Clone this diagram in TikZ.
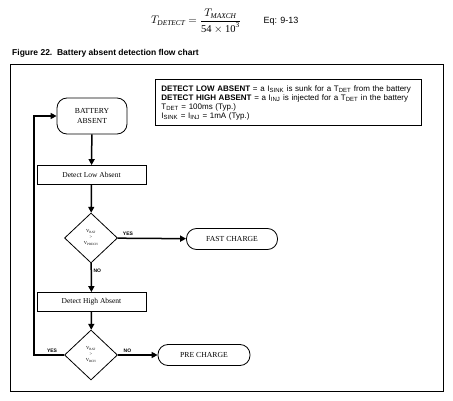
\documentclass[tikz,border=0pt]{standalone}
\usepackage{amsmath}
\usepackage{fontspec}
\setmainfont{Liberation Serif}
\setsansfont{Liberation Sans}
\usetikzlibrary{positioning,arrows.meta,shapes.geometric}

\tikzset{
  terminal/.style={draw, line width=0.8pt, rounded corners=10pt, align=center, inner sep=0pt, font=\fontsize{7.7}{10}\selectfont},
  process/.style={draw, line width=0.8pt, minimum width=109pt, minimum height=19pt, inner sep=0pt, font=\fontsize{7.5}{9}\selectfont},
  decision/.style={draw, line width=0.8pt, diamond, aspect=1.06, inner sep=0pt, minimum width=53pt, minimum height=50pt, align=center, font=\fontsize{4.6}{6}\selectfont},
  flow/.style={line width=1.5pt, -{Triangle[length=6pt,width=6pt]}},
  branch/.style={font=\sffamily\bfseries\fontsize{5}{6}\selectfont, inner sep=1.5pt},
}

\begin{document}
\begin{tikzpicture}[x=1pt, y=-1pt]
  \useasboundingbox (0,0) rectangle (453,401);
  % equation and caption
  \node (eqn) at (196,21) {\fontsize{10.5}{12}\selectfont$T_{\text{\itshape DETECT}}=\dfrac{T_{\text{\itshape MAXCH}}}{\text{54}\times\text{10}^{\text{3}}}$};
  \node[anchor=west, font=\sffamily\fontsize{9}{10}\selectfont] (eqno) at (260,21) {Eq: 9-13};
  \node[anchor=base west, font=\sffamily\bfseries\fontsize{8.5}{10}\selectfont, inner sep=0pt] (caption) at (12,56) {Figure 22.\ \ Battery absent detection flow chart};
  \draw[line width=0.8pt] (10,64) rectangle (443,391);

  % legend
  \node[draw, line width=0.8pt, anchor=north west, text width=254pt, minimum height=45pt, inner sep=6pt, align=left, font=\sffamily\fontsize{8}{9}\selectfont] (note) at (155,79)
    {\textbf{DETECT LOW ABSENT} = a I\textsubscript{SINK} is sunk for a T\textsubscript{DET} from the battery\\
     \textbf{DETECT HIGH ABSENT} = a I\textsubscript{INJ} is injected for a T\textsubscript{DET} in the battery\\
     T\textsubscript{DET} = 100ms (Typ.)\\
     I\textsubscript{SINK} = I\textsubscript{INJ} = 1mA (Typ.)};

  % flow chart
  \node[terminal, minimum width=70pt, minimum height=36pt] (batt) at (92,116) {BATTERY\\ABSENT};
  \node[process] (lowdet) at (91.5,175) {Detect Low Absent};
  \node[decision] (chkfast) at (91,238) {V\textsubscript{BAT}\\>\\V\textsubscript{PRECH}};
  \node[terminal, minimum width=91pt, minimum height=21pt] (fast) at (232,239) {FAST CHARGE};
  \node[process] (highdet) at (91.5,302) {Detect High Absent};
  \node[decision] (chkpre) at (91,355) {V\textsubscript{BAT}\\>\\V\textsubscript{RCH}};
  \node[terminal, minimum width=92pt, minimum height=21pt] (pre) at (204,355) {PRE CHARGE};
  \coordinate (loopx) at (34,0);

  \draw[flow] (batt) -- (lowdet);
  \draw[flow] (lowdet) -- (chkfast);
  \draw[flow] (chkfast) -- node[branch, above, pos=0.15]{YES} (fast);
  \draw[flow] (chkfast) -- node[branch, right, pos=0.25]{NO} (highdet);
  \draw[flow] (highdet) -- (chkpre);
  \draw[flow] (chkpre) -- node[branch, above, pos=0.24]{NO} (pre);
  \draw[flow] (chkpre.west) -- node[branch, above, pos=0.4]{YES} (chkpre.west -| loopx) |- (batt.west);
\end{tikzpicture}
\end{document}
